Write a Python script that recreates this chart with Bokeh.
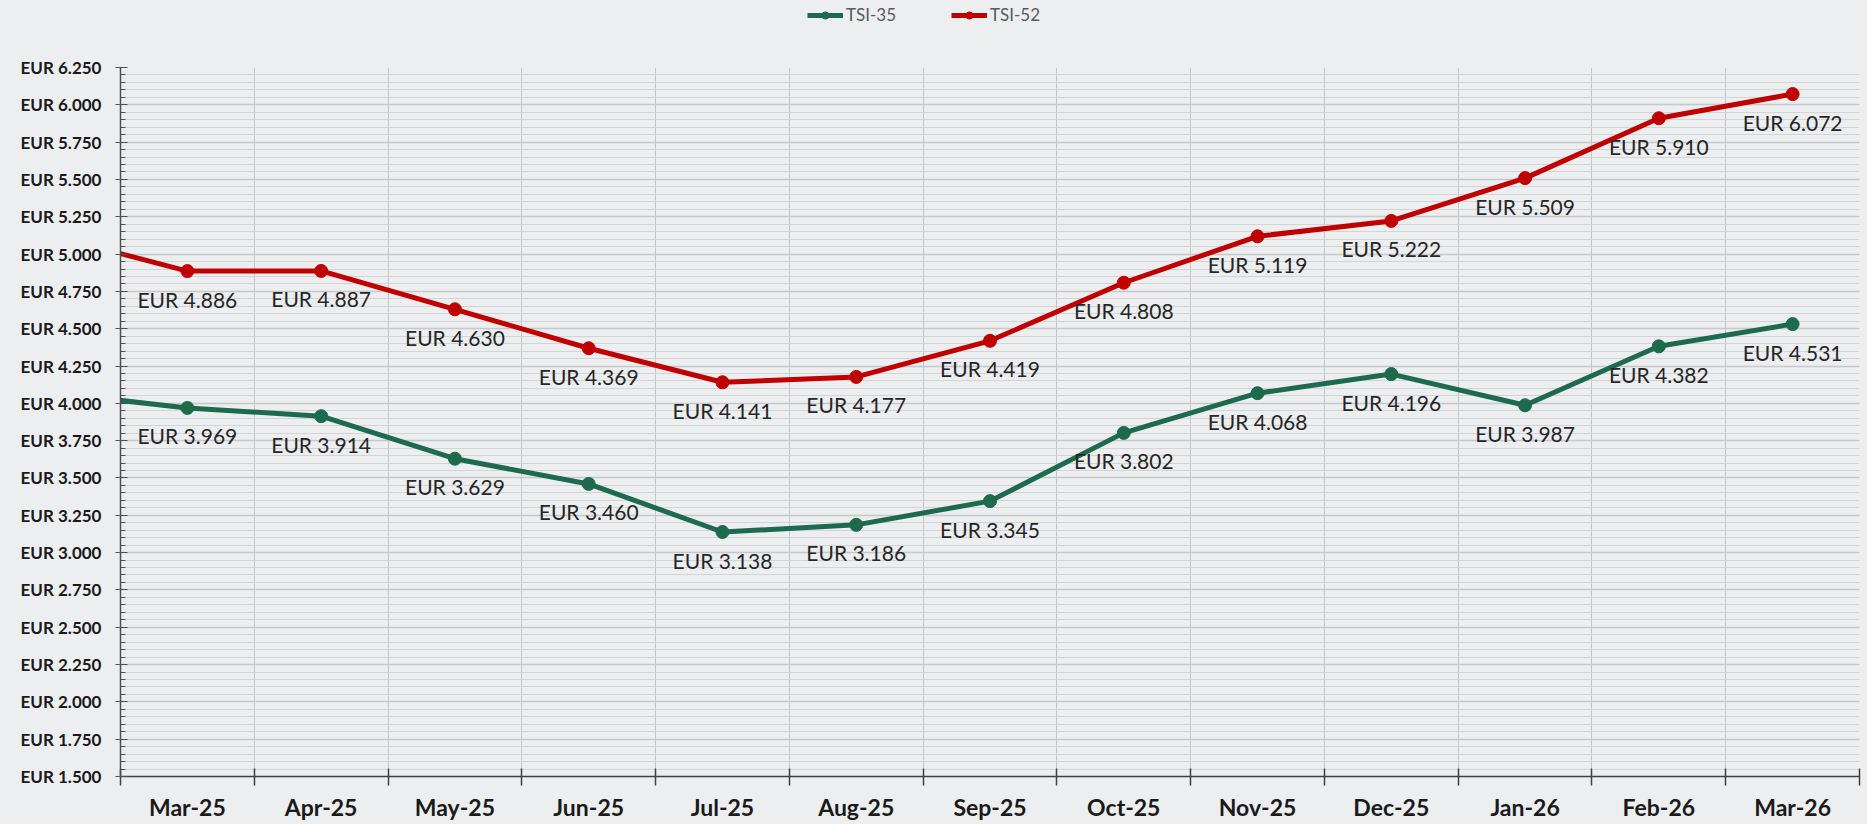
from bokeh.plotting import figure
from bokeh.layouts import column
from bokeh.models import (ColumnDataSource, FixedTicker, CustomJSTickFormatter, Range1d,
                          Legend, LegendItem, LabelSet)
from bokeh.embed import file_html
from bokeh.resources import INLINE
from bokeh.core.properties import value

# ---- data ----
months = ["Mar-25", "Apr-25", "May-25", "Jun-25", "Jul-25", "Aug-25", "Sep-25",
          "Oct-25", "Nov-25", "Dec-25", "Jan-26", "Feb-26", "Mar-26"]
tsi35 = [3.969, 3.914, 3.629, 3.460, 3.138, 3.186, 3.345, 3.802, 4.068, 4.196, 3.987, 4.382, 4.531]
tsi52 = [4.886, 4.887, 4.630, 4.369, 4.141, 4.177, 4.419, 4.808, 5.119, 5.222, 5.509, 5.910, 6.072]
# previous month (Feb-25), only partly visible at the left edge
tsi35_prev = 4.07
tsi52_prev = 5.12
series_names = ["TSI-35", "TSI-52"]
y_ticks = [1.5, 1.75, 2.0, 2.25, 2.5, 2.75, 3.0, 3.25, 3.5, 3.75, 4.0, 4.25, 4.5,
           4.75, 5.0, 5.25, 5.5, 5.75, 6.0, 6.25]

GREEN = "#1e6a4c"
RED = "#c00000"
BG = "#eceef0"
FONT = "Lato"
W = 1867
TOP_H = 56

n = len(months)
xs = list(range(n))
xs_full = [-1] + xs

# ---- legend strip (top); its ranges keep the series out of view, only the legend shows ----
top = figure(width=W, height=TOP_H, output_backend="svg", toolbar_location=None,
             x_range=Range1d(100, 101), y_range=Range1d(100, 101),
             x_axis_type=None, y_axis_type=None,
             background_fill_color=BG, border_fill_color=BG,
             min_border_left=0, min_border_right=0, min_border_top=0, min_border_bottom=0)
top.outline_line_color = None
top.xgrid.visible = False
top.ygrid.visible = False
tl35 = top.line(xs, tsi35, line_color=GREEN, line_width=5)
tc35 = top.scatter(xs, tsi35, size=13, fill_color=GREEN, line_color=GREEN)
tl52 = top.line(xs, tsi52, line_color=RED, line_width=5)
tc52 = top.scatter(xs, tsi52, size=13, fill_color=RED, line_color=RED)
legend = Legend(items=[LegendItem(label=series_names[0], renderers=[tl35, tc35]),
                       LegendItem(label=series_names[1], renderers=[tl52, tc52])],
                orientation="horizontal", location=(687, 31),
                background_fill_alpha=0, border_line_color=None,
                label_text_font=FONT, label_text_font_size="17px",
                label_text_color="#595959", glyph_width=36, glyph_height=18,
                label_height=18, label_standoff=3, spacing=55, padding=0, margin=0)
top.add_layout(legend, "center")

# ---- main chart ----
p = figure(width=W, height=824 - TOP_H, output_backend="svg", toolbar_location=None,
           x_range=Range1d(-0.5, n - 0.5), y_range=Range1d(1.5, 6.25),
           background_fill_color=BG, border_fill_color=BG,
           min_border_left=120, min_border_right=8, min_border_top=11, min_border_bottom=48)
p.outline_line_color = None

centers = xs
bounds = [i + 0.5 for i in range(-1, n)]
p.xaxis.ticker = FixedTicker(ticks=centers, minor_ticks=bounds)
p.xaxis.major_label_overrides = {i: m for i, m in enumerate(months)}
p.xaxis.major_tick_line_color = None
p.xaxis.major_tick_out = 0
p.xaxis.major_tick_in = 0
p.xaxis.minor_tick_in = 8
p.xaxis.minor_tick_out = 9
p.xaxis.minor_tick_line_color = "#404040"
p.xaxis.minor_tick_line_width = 1.5
p.xaxis.axis_line_color = "#404040"
p.xaxis.axis_line_width = 1.5
p.xaxis.major_label_text_font = FONT
p.xaxis.major_label_text_font_style = "bold"
p.xaxis.major_label_text_font_size = "23px"
p.xaxis.major_label_text_color = "#1a1a1a"
p.xaxis.major_label_standoff = 7

minor_y = [round(1.5 + 0.05 * i, 2) for i in range(96)]
p.yaxis.ticker = FixedTicker(ticks=y_ticks, minor_ticks=minor_y)
p.yaxis.formatter = CustomJSTickFormatter(code="return 'EUR ' + tick.toFixed(3);")
p.yaxis.major_tick_in = 7
p.yaxis.major_tick_out = 5
p.yaxis.minor_tick_in = 5
p.yaxis.minor_tick_out = 0
p.yaxis.major_tick_line_color = "#505050"
p.yaxis.minor_tick_line_color = "#505050"
p.yaxis.axis_line_color = "#505050"
p.yaxis.axis_line_width = 1.5
p.yaxis.major_label_text_font = FONT
p.yaxis.major_label_text_font_style = "bold"
p.yaxis.major_label_text_font_size = "17px"
p.yaxis.major_label_text_color = "#1a1a1a"
p.yaxis.major_label_standoff = 14

p.xgrid.ticker = FixedTicker(ticks=bounds)
p.xgrid.grid_line_color = "#c4c6c8"
p.xgrid.grid_line_width = 1
p.ygrid.grid_line_color = "#c6c8ca"
p.ygrid.grid_line_width = 1.5
p.ygrid.minor_grid_line_color = "#d2d4d6"
p.ygrid.minor_grid_line_width = 1.2

src35 = ColumnDataSource(dict(x=xs, y=tsi35, lab=["EUR %.3f" % v for v in tsi35]))
src52 = ColumnDataSource(dict(x=xs, y=tsi52, lab=["EUR %.3f" % v for v in tsi52]))

p.line(xs_full, [tsi35_prev] + tsi35, line_color=GREEN, line_width=5)
p.scatter("x", "y", source=src35, size=13, fill_color=GREEN, line_color=GREEN)
p.line(xs_full, [tsi52_prev] + tsi52, line_color=RED, line_width=5)
p.scatter("x", "y", source=src52, size=13, fill_color=RED, line_color=RED)

for src in (src35, src52):
    p.add_layout(LabelSet(x="x", y="y", text="lab", source=src, y_offset=-28,
                          text_align="center", text_baseline="middle",
                          text_font=value(FONT), text_font_size="21px",
                          text_color="#262626"))

layout = column(top, p, spacing=0, styles={"background-color": BG})
open("out.html", "w").write(file_html(layout, INLINE))
